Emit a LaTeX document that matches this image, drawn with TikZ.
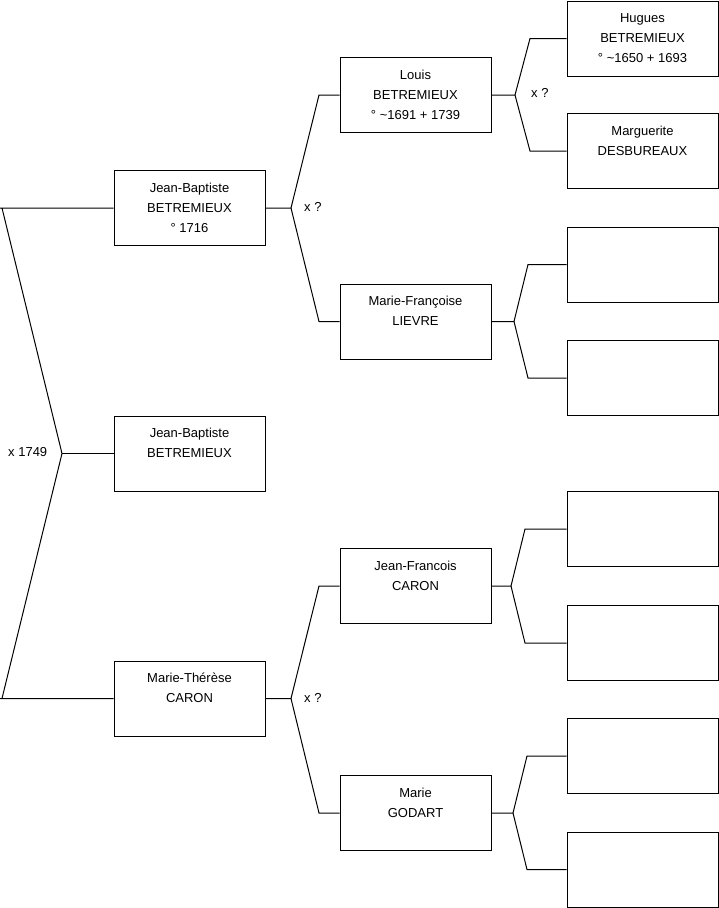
\documentclass[tikz,border=0pt]{standalone}
\usepackage{fontspec}
\setmainfont{Liberation Sans}
\newcommand\ls{\rule[-6pt]{0pt}{20pt}}
\begin{document}
\begin{tikzpicture}[x=1pt,y=-1pt,
  pbox/.style={draw=black,line width=1pt,fill=white,minimum width=151pt,minimum height=75pt,inner sep=0pt,align=center,font=\fontsize{13}{20}\selectfont},
  link/.style={draw=black,line width=1pt},
  lbl/.style={anchor=west,inner sep=0pt,font=\fontsize{13}{16}\selectfont}]
\useasboundingbox (0,0) rectangle (719,908);
% column 1
\node[pbox] (jb1) at (189.5,208) {\ls Jean-Baptiste\\\ls BETREMIEUX\\\ls ° 1716};
\node[pbox] (jb0) at (189.5,453.5) {\ls Jean-Baptiste\\\ls BETREMIEUX\\\ls};
\node[pbox] (mt) at (189.5,698.5) {\ls Marie-Thérèse\\\ls CARON\\\ls};
% column 2
\node[pbox] (lo) at (415.5,95) {\ls Louis\\\ls BETREMIEUX\\\ls ° \textasciitilde1691 + 1739};
\node[pbox] (mf) at (415.5,321.5) {\ls Marie-Françoise\\\ls LIEVRE\\\ls};
\node[pbox] (jf) at (415.5,586) {\ls Jean-Francois\\\ls CARON\\\ls};
\node[pbox] (mg) at (415.5,813) {\ls Marie\\\ls GODART\\\ls};
% column 3
\node[pbox] (hu) at (642.5,38.5) {\ls Hugues\\\ls BETREMIEUX\\\ls ° \textasciitilde1650 + 1693};
\node[pbox] (ma) at (642.5,151) {\ls Marguerite\\\ls DESBUREAUX\\\ls};
\node[pbox] (e1) at (642.5,264.5) {};
\node[pbox] (e2) at (642.5,378) {};
\node[pbox] (e3) at (642.5,529) {};
\node[pbox] (e4) at (642.5,643) {};
\node[pbox] (e5) at (642.5,756) {};
\node[pbox] (e6) at (642.5,869.5) {};
% level 0 fork
\coordinate (t0) at (2,208);
\coordinate (b0) at (2,698.5);
\coordinate (f0) at (62,453.5);
\draw[link] (jb1.west) -- (0,208) -- (t0) -- (f0) -- (b0) -- (0,698.5) -- (mt.west);
\draw[link] (f0) -- (jb0.west);
\node[lbl] (l0) at (8,452.5) {x 1749};
% level 1 forks
\coordinate (f1) at (291,208);
\coordinate (f1a) at (319,95);
\coordinate (f1b) at (319,321.5);
\draw[link] (jb1.east) -- (f1) -- (f1a) -- (lo.west);
\draw[link] (f1) -- (f1b) -- (mf.west);
\node[lbl] (l1) at (304,207) {x ?};
\coordinate (f2) at (291,698.5);
\coordinate (f2a) at (319,586);
\coordinate (f2b) at (319,813);
\draw[link] (mt.east) -- (f2) -- (f2a) -- (jf.west);
\draw[link] (f2) -- (f2b) -- (mg.west);
\node[lbl] (l2) at (304,697.5) {x ?};
% level 2 forks
\coordinate (g1) at (515,95);
\coordinate (g1a) at (530,38.5);
\coordinate (g1b) at (530,151);
\draw[link] (lo.east) -- (g1) -- (g1a) -- (hu.west);
\draw[link] (g1) -- (g1b) -- (ma.west);
\node[lbl] (l3) at (531,93) {x ?};
\coordinate (g2) at (514,321.5);
\coordinate (g2a) at (528,264.5);
\coordinate (g2b) at (528,378);
\draw[link] (mf.east) -- (g2) -- (g2a) -- (e1.west);
\draw[link] (g2) -- (g2b) -- (e2.west);
\coordinate (g3) at (511,586);
\coordinate (g3a) at (525,529);
\coordinate (g3b) at (525,643);
\draw[link] (jf.east) -- (g3) -- (g3a) -- (e3.west);
\draw[link] (g3) -- (g3b) -- (e4.west);
\coordinate (g4) at (513,813);
\coordinate (g4a) at (527,756);
\coordinate (g4b) at (527,869.5);
\draw[link] (mg.east) -- (g4) -- (g4a) -- (e5.west);
\draw[link] (g4) -- (g4b) -- (e6.west);
\end{tikzpicture}
\end{document}
